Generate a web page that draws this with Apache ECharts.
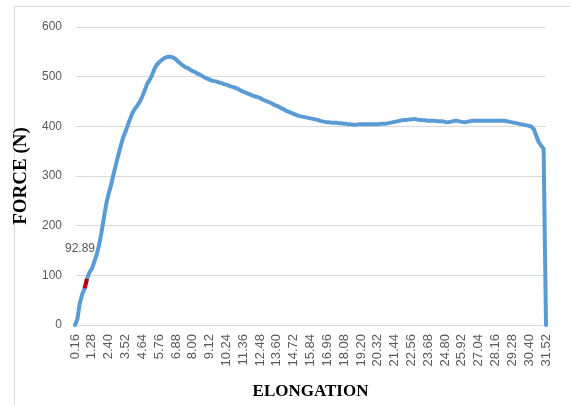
<!DOCTYPE html>
<html>
<head>
<meta charset="utf-8">
<script src="https://cdn.jsdelivr.net/npm/echarts@6/dist/echarts.min.js"></script>
<style>
html,body{margin:0;padding:0;background:#fff;}
#chart{position:absolute;left:0;top:0;width:570px;height:405px;}
#frame{position:absolute;left:14px;top:6px;width:600px;height:450px;border:1px solid #d9d9d9;pointer-events:none;}
</style>
</head>
<body>
<div id="frame"></div>
<div id="chart"></div>
<script>
// Elongation categories (0.16 step)
const elongation = [];
for (let i = 0; i <= 196; i++) elongation.push((0.16 + i * 0.16).toFixed(2));

// Force values (N)
const force = [
  0, 12, 44, 62, 74, 92.89, 106, 113, 127, 141,
  161, 186, 215, 244, 264, 282, 303, 322, 342, 360,
  377, 389, 403, 416, 428, 436, 442, 450, 460, 472,
  485, 493, 502, 515, 524, 529, 533, 537, 539, 540,
  540, 538, 535, 530, 526, 522, 519, 517, 514, 511,
  509, 506, 504, 501, 498, 496, 494, 492, 491, 490,
  488, 487, 485, 484, 482, 480, 479, 477, 475, 472,
  470, 468, 466, 464, 462, 460, 459, 457, 454, 452,
  450, 448, 446, 443, 441, 439, 436, 434, 431, 429,
  427, 425, 423, 421, 420, 419, 418, 417, 416, 415,
  414, 413, 411, 410, 409, 408, 408, 407, 407, 407,
  406, 406, 405, 405, 404, 404, 403, 403, 404, 404,
  404, 404, 404, 404, 404, 404, 404, 405, 405, 405,
  406, 407, 408, 409, 410, 411, 412, 413, 413, 414,
  414, 415, 414, 413, 413, 412, 412, 411, 411, 411,
  411, 410, 410, 410, 409, 408, 409, 410, 411, 411,
  410, 409, 408, 409, 410, 411, 411, 411, 411, 411,
  411, 411, 411, 411, 411, 411, 411, 411, 411, 411,
  410, 409, 408, 407, 406, 405, 404, 403, 402, 401,
  399, 394, 380, 368, 361, 355, 0
];

// Highlighted (red) segment indices and the labelled value
const highlightIdx = [4, 5];
const labelValue = 92.89;

const yTicks = [0, 100, 200, 300, 400, 500, 600];

const redData = elongation.map((_, i) => {
  if (!highlightIdx.includes(i)) return null;
  if (force[i] === labelValue) {
    return {
      value: force[i],
      label: {
        show: true, position: 'top', distance: 5, offset: [-7, -19],
        formatter: '{c}', color: '#595959', fontSize: 12,
        fontFamily: 'Liberation Sans'
      }
    };
  }
  return force[i];
});

const chart = echarts.init(document.getElementById('chart'), null, {renderer: 'canvas'});
chart.setOption({
  animation: false,
  backgroundColor: 'transparent',
  grid: {left: 75, right: 24, top: 27, bottom: 77, containLabel: false},
  xAxis: {
    type: 'category',
    data: elongation,
    boundaryGap: false,
    name: 'ELONGATION',
    nameLocation: 'middle',
    nameGap: 58,
    nameTextStyle: {fontFamily: 'Liberation Serif', fontWeight: 'bold', fontSize: 17, color: '#000'},
    axisLine: {show: true, lineStyle: {color: '#d9d9d9', width: 1}},
    axisTick: {show: false},
    axisLabel: {
      interval: 6, rotate: 90, margin: 9,
      color: '#595959', fontSize: 13, fontFamily: 'Liberation Sans'
    },
    splitLine: {show: false}
  },
  yAxis: {
    type: 'value',
    min: yTicks[0], max: yTicks[yTicks.length - 1], interval: 100,
    name: 'FORCE (N)',
    nameLocation: 'middle',
    nameGap: 36,
    nameTextStyle: {fontFamily: 'Liberation Serif', fontWeight: 'bold', fontSize: 19, color: '#000'},
    axisLine: {show: false},
    axisTick: {show: false},
    axisLabel: {margin: 13, color: '#595959', fontSize: 12, fontFamily: 'Liberation Sans'},
    splitLine: {lineStyle: {color: '#d9d9d9', width: 1}}
  },
  series: [
    {
      type: 'line',
      data: force,
      symbol: 'none',
      lineStyle: {color: '#5B9BD5', width: 4, join: 'round', cap: 'round'},
      z: 2
    },
    {
      type: 'line',
      data: redData,
      symbol: 'circle',
      symbolSize: 0,
      showSymbol: true,
      connectNulls: false,
      lineStyle: {color: '#C00000', width: 4},
      itemStyle: {color: '#C00000'},
      z: 3
    }
  ]
});
</script>
</body>
</html>
